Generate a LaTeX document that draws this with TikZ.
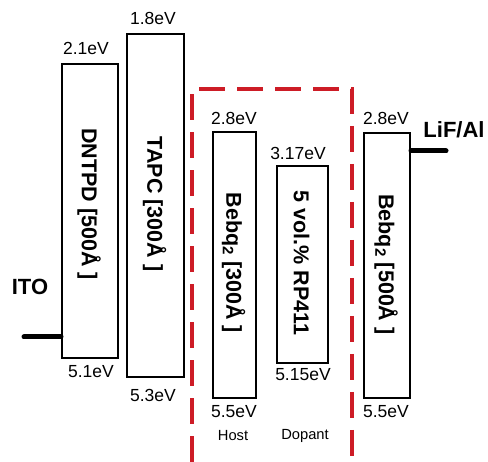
\documentclass[tikz,border=0pt]{standalone}
\usepackage{fontspec}
\setmainfont{Liberation Sans}
\definecolor{dashred}{RGB}{205,28,38}
\begin{document}
\begin{tikzpicture}[x=1pt,y=-1pt,
  layer/.style={draw=black,line width=2pt,minimum width=#1,anchor=north west,inner sep=0pt},
  layertext/.style={rotate=-90,font=\fontsize{21.5}{21.5}\selectfont\bfseries,inner sep=0pt},
  evlabel/.style={font=\fontsize{17.5}{17.5}\selectfont,inner sep=0pt},
  rolelabel/.style={font=\fontsize{14.7}{14.7}\selectfont,inner sep=0pt},
  electrode/.style={font=\fontsize{22}{22}\selectfont\bfseries,inner sep=0pt},
  contact/.style={line width=5pt,line cap=round},
  groupline/.style={draw=dashred,line width=3.2pt,dash pattern=on 26pt off 12pt}]
\useasboundingbox (0,0) rectangle (488,462);
% layers
\node[layer=56pt,minimum height=294pt] (dntpd) at (61,63) {};
\node[layer=57pt,minimum height=343pt] (tapc) at (126,33) {};
\node[layer=43pt,minimum height=266pt] (host) at (212,131) {};
\node[layer=51pt,minimum height=197pt] (dopant) at (276,165) {};
\node[layer=46pt,minimum height=265pt] (etl) at (363,132) {};
% layer texts
\node[layertext] (tdntpd) at (89,204) {DNTPD [500Å ]};
\node[layertext] (ttapc) at (154.5,204) {TAPC [300Å ]};
\node[layertext] (thost) at (233.5,263) {Bebq$_{\mathbf 2}$ [300Å ]};
\node[layertext] (tdopant) at (301.5,263) {5 vol.\% RP411};
\node[layertext] (tetl) at (386,264.5) {Bebq$_{\mathbf 2}$ [500Å ]};
% energy labels
\node[evlabel] (l1) at (86,48) {2.1eV};
\node[evlabel] (l2) at (153,18) {1.8eV};
\node[evlabel] (l3) at (234,118) {2.8eV};
\node[evlabel] (l4) at (298,153) {3.17eV};
\node[evlabel] (l5) at (386,118) {2.8eV};
\node[evlabel] (h1) at (91,372) {5.1eV};
\node[evlabel] (h2) at (153,395) {5.3eV};
\node[evlabel] (h3) at (234,412) {5.5eV};
\node[evlabel] (h4) at (303,375) {5.15eV};
\node[evlabel] (h5) at (386,412) {5.5eV};
\node[rolelabel] (rh) at (233,436) {Host};
\node[rolelabel] (rd) at (305,436) {Dopant};
% electrodes
\node[electrode] (ito) at (30,287) {ITO};
\node[electrode] (lif) at (454,130) {LiF/Al};
\coordinate (itoend) at (24,337);
\coordinate (lifend) at (446,151);
\draw[contact] (itoend) -- (itoend -| dntpd.west);
\draw[contact] (lifend -| etl.east) -- (lifend);
% emission layer group
\coordinate (g1) at (192,462);
\coordinate (g2) at (192,89);
\coordinate (g3) at (352,89);
\coordinate (g4) at (352,462);
\draw[groupline] (g1) -- (g2) -- (g3) -- (g4);
\end{tikzpicture}
\end{document}
